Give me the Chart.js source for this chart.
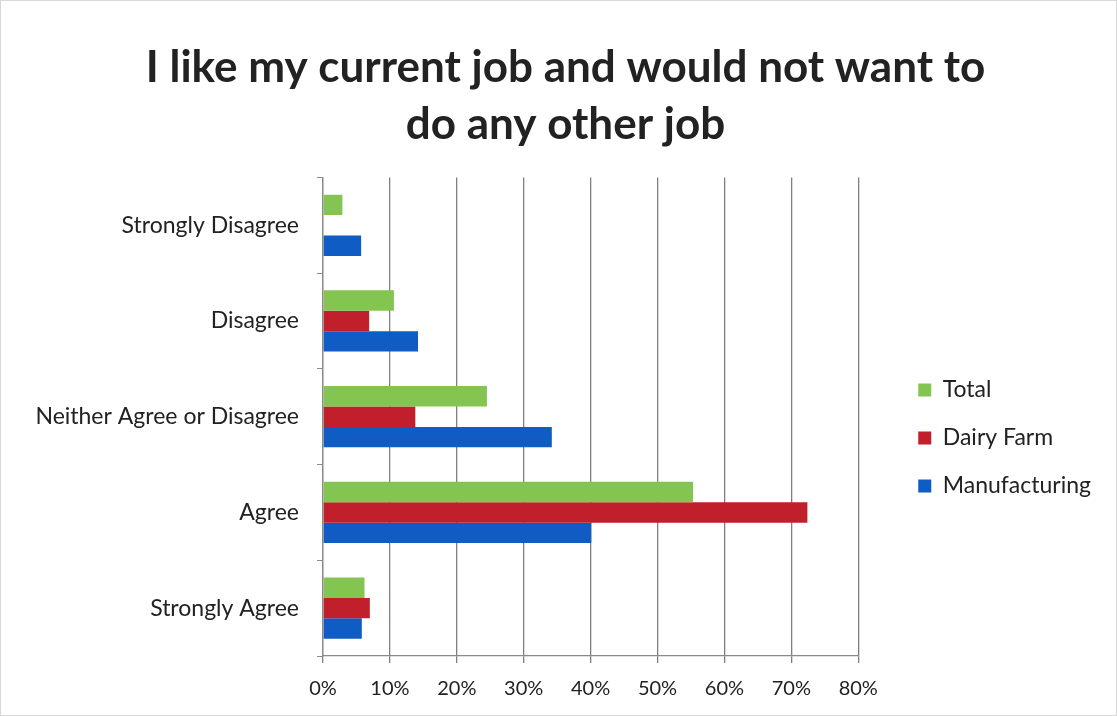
<!DOCTYPE html>
<html lang="en">
<head>
    <meta charset="UTF-8">
    <title>I like my current job</title>
    <script src="https://cdn.jsdelivr.net/npm/chart.js"></script>
    <style>
        body { margin: 0; background: #fff; }
        #wrap { width: 1117px; height: 716px; position: relative; box-sizing: border-box; border: 1px solid #d8d8d8; }
    </style>
</head>
<body>
    <div id="wrap"><canvas id="grafico" width="1115" height="714"></canvas></div>

    <script>
        const categorias = ['Strongly Disagree', 'Disagree', 'Neither Agree or Disagree', 'Agree', 'Strongly Agree'];
        const total = [2.9, 10.6, 24.5, 55.3, 6.2];
        const dairyFarm = [0, 6.9, 13.8, 72.4, 7.0];
        const manufacturing = [5.7, 14.2, 34.2, 40.1, 5.8];
        const ticksX = [0, 10, 20, 30, 40, 50, 60, 70, 80];

        const fonte = "Lato, 'Open Sans', sans-serif";

        // empurra a legenda para a direita e para baixo, e centraliza o título na página
        const ajustarLayout = {
            id: 'ajustarLayout',
            afterLayout(chart) {
                const lg = chart.legend;
                if (lg) {
                    lg.left += 35;
                    lg.right += 35;
                    lg.top += 61;
                    lg.bottom += 61;
                }
                const tt = chart.titleBlock;
                if (tt) {
                    tt.left += 32;
                    tt.right += 32;
                }
            }
        };

        const ctx = document.getElementById('grafico').getContext('2d');
        new Chart(ctx, {
            type: 'bar',
            data: {
                labels: categorias,
                datasets: [
                    { label: 'Total', data: total, backgroundColor: '#84c450' },
                    { label: 'Dairy Farm', data: dairyFarm, backgroundColor: '#c11f2c' },
                    { label: 'Manufacturing', data: manufacturing, backgroundColor: '#0f5cc4' }
                ]
            },
            plugins: [ajustarLayout],
            options: {
                indexAxis: 'y',
                responsive: false,
                animation: false,
                categoryPercentage: 0.64,
                barPercentage: 1.0,
                layout: { padding: { top: 38, left: 0, right: 50, bottom: 0 } },
                plugins: {
                    title: {
                        display: true,
                        text: ['I like my current job and would not want to', 'do any other job'],
                        color: '#222',
                        font: { family: fonte, size: 44, weight: 'bold', lineHeight: 1.3 },
                        padding: { top: 0, bottom: 24 }
                    },
                    legend: {
                        position: 'right',
                        labels: {
                            color: '#222',
                            font: { family: fonte, size: 23 },
                            boxWidth: 13,
                            boxHeight: 13,
                            padding: 25
                        }
                    },
                    tooltip: { enabled: false }
                },
                scales: {
                    x: {
                        min: 0,
                        max: 80,
                        afterBuildTicks: axis => { axis.ticks = ticksX.map(v => ({ value: v })); },
                        ticks: {
                            color: '#222',
                            font: { family: fonte, size: 20 },
                            padding: 14,
                            callback: v => v + '%'
                        },
                        grid: { color: '#7f7f7f', lineWidth: 1.3, tickLength: 7 },
                        border: { color: '#8a8a8a', width: 1.3 }
                    },
                    y: {
                        afterFit: axis => { axis.width = 322; },
                        ticks: {
                            color: '#222',
                            font: { family: fonte, size: 23 },
                            padding: 18
                        },
                        grid: { drawOnChartArea: false, color: '#8a8a8a', tickLength: 6, offset: true },
                        border: { color: '#8a8a8a', width: 1.3 }
                    }
                }
            }
        });
    </script>
</body>
</html>
